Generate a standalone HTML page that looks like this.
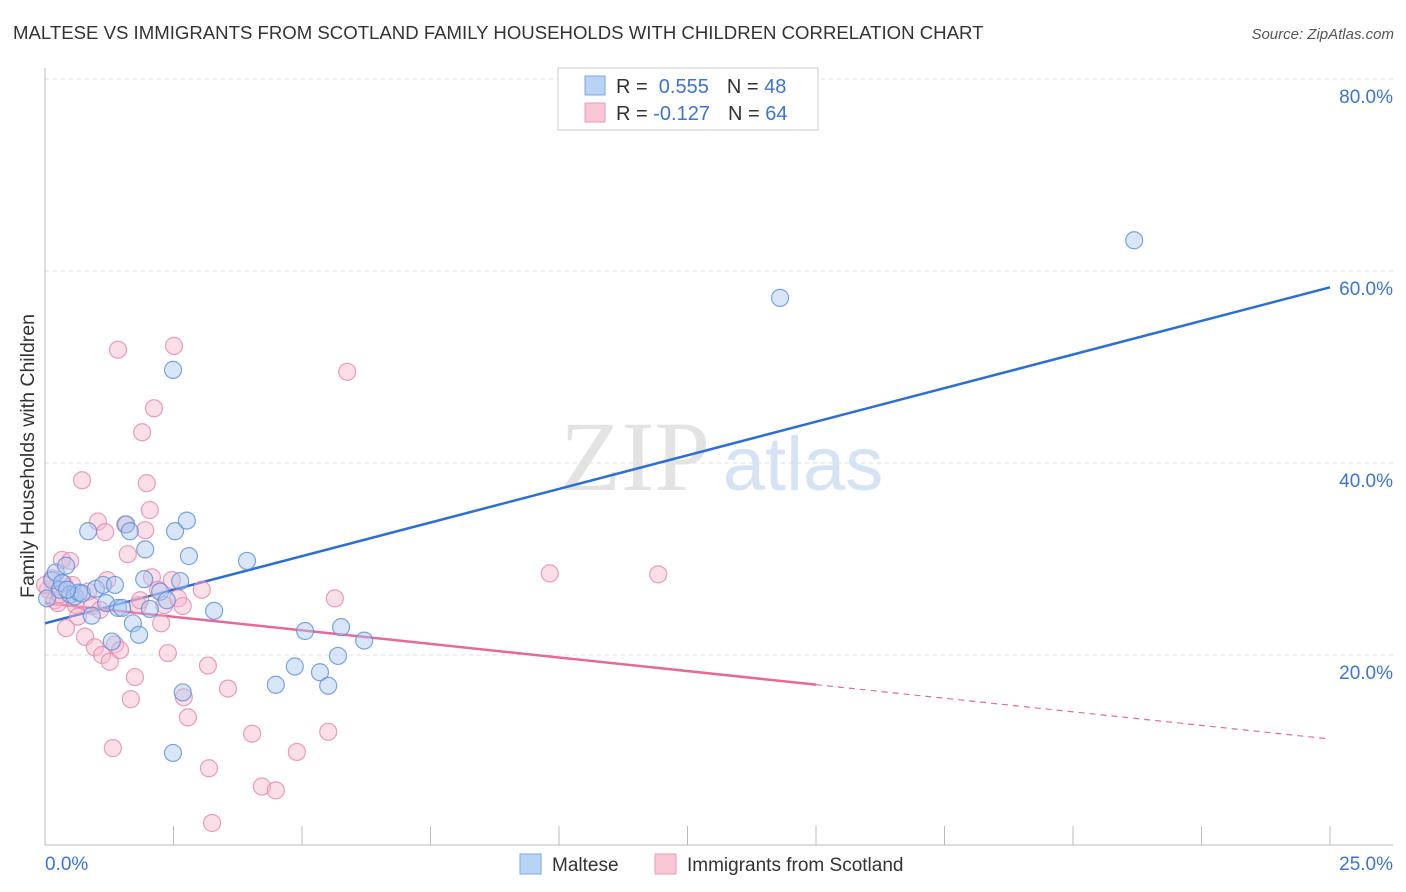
<!DOCTYPE html>
<html><head><meta charset="utf-8"><style>
body{margin:0;background:#fff;font-family:"Liberation Sans",sans-serif;}
svg{display:block}
</style></head><body>
<svg id="chart" width="1406" height="892" font-family="Liberation Sans, sans-serif">
<text x="13" y="39" font-size="18.6" fill="#333">MALTESE VS IMMIGRANTS FROM SCOTLAND FAMILY HOUSEHOLDS WITH CHILDREN CORRELATION CHART</text>
<text x="1394" y="39" font-size="15" fill="#555" font-style="italic" text-anchor="end">Source: ZipAtlas.com</text>
<text x="34" y="456" font-size="19.5" fill="#333" text-anchor="middle" transform="rotate(-90 34 456)">Family Households with Children</text>
<g><text x="635" y="490" font-size="100" fill="#e3e3e3" font-family="Liberation Serif, serif" text-anchor="middle">ZIP</text><text x="803" y="490" font-size="76" fill="#d6e3f5" text-anchor="middle">atlas</text></g>
<g id="grid"></g><g id="axes"></g><g id="lines"></g><g id="pts"></g>
<g>
<rect x="558" y="68" width="260" height="62" fill="#fff" stroke="#ccc"/>
<rect x="585" y="76" width="20" height="19" fill="#b9d3f5" stroke="#7aa6e6"/>
<rect x="585" y="103" width="20" height="19" fill="#f9c6d5" stroke="#ee9ab5"/>
<text x="616" y="93" font-size="20" fill="#333">R = <tspan fill="#3b74d6">&#160;0.555</tspan><tspan dx="18" fill="#333">N = </tspan><tspan fill="#3b74d6">48</tspan></text>
<text x="616" y="120" font-size="20" fill="#333">R = <tspan fill="#3b74d6">-0.127</tspan><tspan dx="18" fill="#333">N = </tspan><tspan fill="#3b74d6">64</tspan></text>
</g>
<g>
<rect x="520" y="854" width="21" height="20" fill="#b9d3f5" stroke="#7aa6e6"/>
<text x="552" y="871" font-size="19" fill="#333">Maltese</text>
<rect x="655" y="854" width="21" height="20" fill="#f9c6d5" stroke="#ee9ab5"/>
<text x="687" y="871" font-size="19" fill="#333">Immigrants from Scotland</text>
</g>
</svg>
<script>
const yTicks=[20,40,60,80];
const yTickLabels=["20.0%","40.0%","60.0%","80.0%"];
const xTickVals=[0,2.5,5,7.5,10,12.5,15,17.5,20,22.5,25];
const xEndLabels=["0.0%","25.0%"];
const blueX=[0.04,0.14,0.21,0.29,0.33,0.41,0.49,0.58,0.66,0.72,0.84,0.91,0.99,1.13,1.19,1.30,1.36,1.42,1.50,1.58,1.65,1.71,1.83,1.93,1.95,2.04,2.24,2.37,2.49,2.49,2.53,2.63,2.68,2.76,2.80,3.29,3.93,4.49,4.86,5.06,5.35,5.51,5.70,5.76,6.21,14.30,21.19,0.43];
const blueY=[25.9,27.8,28.6,26.8,27.5,29.3,26.3,26.1,26.5,26.4,32.9,24.1,26.9,27.3,25.4,21.4,27.3,24.9,24.9,33.6,32.9,23.3,22.1,27.9,31.0,24.8,26.6,25.7,9.8,49.7,32.9,27.7,16.1,34.0,30.3,24.6,29.8,16.9,18.8,22.5,18.2,16.8,19.9,22.9,21.5,57.2,63.2,26.8];
const pinkX=[0.06,0.14,0.19,0.25,0.33,0.37,0.41,0.49,0.53,0.60,0.64,0.72,0.78,0.84,0.91,0.97,1.03,1.11,1.17,1.21,1.26,1.32,1.36,1.42,1.46,1.56,1.61,1.67,1.75,1.81,1.89,1.95,1.98,2.04,2.08,2.12,2.20,2.26,2.32,2.39,2.47,2.51,2.59,2.68,2.70,2.78,3.05,3.17,3.19,3.25,3.56,4.03,4.22,4.49,4.90,5.51,5.64,5.88,9.82,11.93,0,0.29,1.07,1.85];
const pinkY=[26.8,28.0,25.7,25.4,29.9,27.4,22.8,29.8,27.3,25.2,24.0,38.2,21.9,26.6,25.1,20.8,33.9,20.0,32.8,27.8,19.3,10.3,21.1,51.8,20.5,33.6,30.5,15.4,17.7,25.2,43.2,33.0,37.9,35.1,28.1,45.7,26.8,23.3,25.2,20.2,27.8,52.2,25.9,25.1,15.6,13.5,26.8,18.9,8.2,2.5,16.5,11.8,6.3,5.9,9.9,12.0,25.9,49.5,28.5,28.4,27.3,26.3,24.7,25.7];
const blueTrend=[23.3,58.3];
const pinkTrend=[25.4,11.25];
const pinkSolidEnd=15;
const NS='http://www.w3.org/2000/svg';
const sx=v=>45+v/25*1285, sy=v=>847-v*9.6;
function mk(tag,attrs,parent){const e=document.createElementNS(NS,tag);for(const k in attrs)e.setAttribute(k,attrs[k]);document.getElementById(parent).appendChild(e);return e;}
yTicks.forEach((t,i)=>{
  const l=mk('line',{x1:45,x2:1393,y1:sy(t),y2:sy(t),stroke:'#ddd','stroke-dasharray':'4 4'},'grid');
  
  
  const tx=mk('text',{x:1393,y:sy(t)+24,'font-size':19,fill:'#3b74d6','text-anchor':'end'},'grid');
  tx.textContent=yTickLabels[i];
  
  
});
const ax=mk('line',{x1:45,x2:1393,y1:845,y2:845,stroke:'#bbb'},'axes');


const ay=mk('line',{x1:45,x2:45,y1:68,y2:845,stroke:'#bbb'},'axes');


xTickVals.forEach(v=>{
  const t=mk('line',{x1:sx(v),x2:sx(v),y1:826,y2:845,stroke:'#bbb'},'axes');
  
  
});
const xl0=mk('text',{x:45,y:870,'font-size':19,fill:'#3b74d6'},'axes');xl0.textContent=xEndLabels[0];


const xl1=mk('text',{x:1393,y:870,'font-size':19,fill:'#3b74d6','text-anchor':'end'},'axes');xl1.textContent=xEndLabels[1];


function pts(X,Y,fill,stroke,name){X.forEach((x,i)=>{
  const c=mk('circle',{cx:sx(x),cy:sy(Y[i]),r:8.5,fill:fill,'fill-opacity':0.45,stroke:stroke,'stroke-width':1.2,'stroke-opacity':0.8},'pts');
  
  
});}
pts(pinkX,pinkY,'#f7b8cb','#e886a6','scotland-point');
pts(blueX,blueY,'#aac8f0','#5b8fe0','maltese-point');
const bl=mk('line',{x1:sx(0),y1:sy(blueTrend[0]),x2:sx(25),y2:sy(blueTrend[1]),stroke:'#2a6fd6','stroke-width':2.5},'lines');


const pe=pinkTrend[0]+(pinkTrend[1]-pinkTrend[0])*pinkSolidEnd/25;
const pl=mk('line',{x1:sx(0),y1:sy(pinkTrend[0]),x2:sx(pinkSolidEnd),y2:sy(pe),stroke:'#e8689a','stroke-width':2.5},'lines');


const pd=mk('line',{x1:sx(pinkSolidEnd),y1:sy(pe),x2:sx(25),y2:sy(pinkTrend[1]),stroke:'#e8689a','stroke-width':1.2,'stroke-dasharray':'6 5'},'lines');


</script>
</body></html>
